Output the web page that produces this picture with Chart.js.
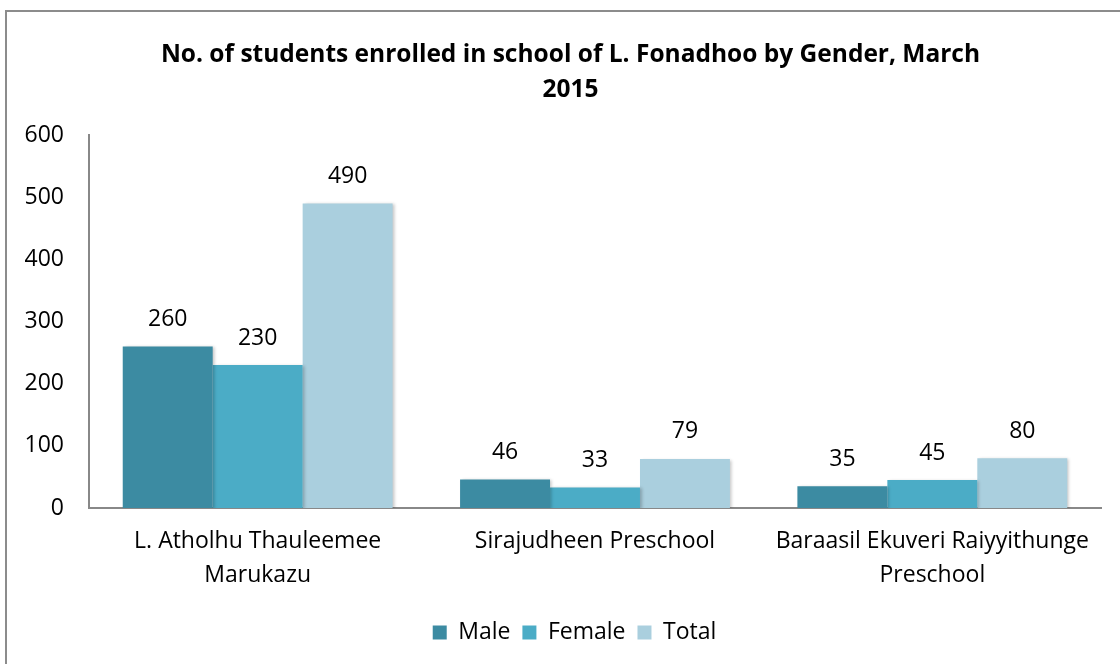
<!DOCTYPE html>
<html>
<head>
<meta charset="utf-8">
<script src="https://cdn.jsdelivr.net/npm/chart.js@4"></script>
<style>
  html, body { margin: 0; padding: 0; background: #fff; }
  #wrap { position: relative; width: 1120px; height: 664px; overflow: hidden; }
  #frame { position: absolute; left: 5px; top: 10px; width: 1200px; height: 800px; border: 2px solid #8c8c8c; box-sizing: border-box; }
  canvas { position: absolute; left: 0; top: 0; }
</style>
</head>
<body>
<div id="wrap">
  <div id="frame"></div>
  <canvas id="chart" width="1120" height="664"></canvas>
</div>
<script>
const schools = [
  ["L. Atholhu Thauleemee", "Marukazu"],
  "Sirajudheen Preschool",
  ["Baraasil Ekuveri Raiyyithunge", "Preschool"]
];
const male = [260, 46, 35];
const female = [230, 33, 45];
const total = [490, 79, 80];
const yTicks = [0, 100, 200, 300, 400, 500, 600];

const FONT = "'Open Sans', sans-serif";

// soft shadow behind each bar, like the office chart
const barShadow = {
  id: "barShadow",
  beforeDatasetDraw(chart) {
    const ctx = chart.ctx;
    ctx.save();
    ctx.shadowColor = "rgba(0,0,0,0.22)";
    ctx.shadowBlur = 3;
    ctx.shadowOffsetX = 2;
    ctx.shadowOffsetY = 1;
  },
  afterDatasetDraw(chart) {
    chart.ctx.restore();
  }
};

// value labels above the bars
const valueLabels = {
  id: "valueLabels",
  afterDatasetsDraw(chart) {
    const ctx = chart.ctx;
    ctx.save();
    ctx.font = "23px " + FONT;
    ctx.fillStyle = "#000";
    ctx.textAlign = "center";
    ctx.textBaseline = "middle";
    chart.data.datasets.forEach((ds, i) => {
      chart.getDatasetMeta(i).data.forEach((bar, j) => {
        ctx.fillText(ds.data[j], bar.x, bar.y - 27);
      });
    });
    ctx.restore();
  }
};

// the original frame is wider than the picture, so title and legend sit a bit right of centre
const shiftBoxes = {
  id: "shiftBoxes",
  afterLayout(chart) {
    chart.titleBlock.left += 20;
    chart.titleBlock.right += 20;
    chart.legend.left += 24;
    chart.legend.right += 24;
  }
};

new Chart(document.getElementById("chart"), {
  type: "bar",
  data: {
    labels: schools,
    datasets: [
      { label: "Male", data: male, backgroundColor: "#3c8ba2" },
      { label: "Female", data: female, backgroundColor: "#4bacc6" },
      { label: "Total", data: total, backgroundColor: "#aacfde" }
    ]
  },
  options: {
    responsive: false,
    animation: false,
    layout: { padding: { top: 10, right: 19, left: 0, bottom: 10 } },
    datasets: {
      bar: { categoryPercentage: 0.8, barPercentage: 1.0, borderWidth: 0 }
    },
    scales: {
      x: {
        grid: { display: false, drawTicks: false },
        border: { display: true, color: "#888", width: 2 },
        ticks: { color: "#000", font: { family: FONT, size: 23, lineHeight: 1.5 }, padding: 16, maxRotation: 0 }
      },
      y: {
        min: 0,
        max: 600,
        afterBuildTicks(scale) {
          scale.ticks = yTicks.map(v => ({ value: v }));
        },
        afterFit(scale) { scale.width = 89; },
        grid: { display: false, drawTicks: false },
        border: { display: true, color: "#888", width: 2 },
        ticks: { color: "#000", font: { family: FONT, size: 23 }, padding: 25 }
      }
    },
    plugins: {
      title: {
        display: true,
        text: ["No. of students enrolled in school of L. Fonadhoo by Gender, March", "2015"],
        color: "#000",
        font: { family: FONT, size: 24.5, weight: "bold", lineHeight: 1.43 },
        padding: { top: 27, bottom: 28 }
      },
      legend: {
        position: "bottom",
        labels: {
          color: "#000",
          font: { family: FONT, size: 23 },
          boxWidth: 14,
          boxHeight: 14,
          padding: 12
        }
      },
      tooltip: { enabled: false }
    }
  },
  plugins: [barShadow, valueLabels, shiftBoxes]
});
</script>
</body>
</html>
